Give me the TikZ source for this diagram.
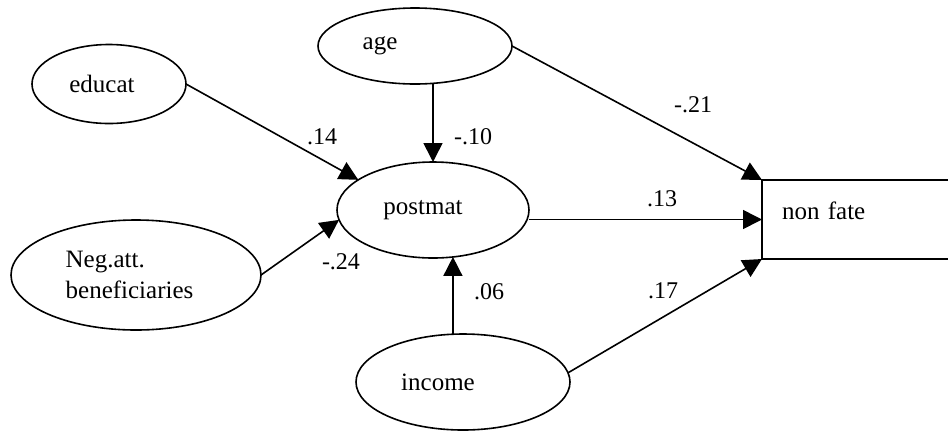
\documentclass[tikz,border=0pt]{standalone}
\usepackage{fontspec}
\setmainfont{Liberation Serif}
\usetikzlibrary{arrows.meta,shapes.geometric}
\begin{document}
\begin{tikzpicture}[x=1bp,y=-1bp,
  ell/.style={ellipse,draw,line width=1.6bp,inner sep=0pt,outer sep=0pt,font=\fontsize{25bp}{31bp}\selectfont},
  box/.style={rectangle,draw,line width=1.6bp,inner sep=0pt,outer sep=0pt,font=\fontsize{25bp}{31bp}\selectfont},
  lbl/.style={inner sep=0pt,font=\fontsize{24bp}{28bp}\selectfont},
  arr/.style={-{Triangle[length=19bp,width=19bp]},line width=1.6bp}]
\useasboundingbox (0,0) rectangle (948,432);
\node[ell,minimum width=154bp,minimum height=79bp] (educat) at (109,84) {educat\kern14bp};
\node[ell,minimum width=194bp,minimum height=76bp] (age) at (415,46) {age\kern70bp};
\node[ell,minimum width=192bp,minimum height=96bp] (postmat) at (433,210) {postmat\kern20bp};
\node[ell,minimum width=250bp,minimum height=110bp,align=left] (neg) at (136,275) {Neg.att.\\beneficiaries\kern13bp};
\node[ell,minimum width=214bp,minimum height=96bp] (income) at (463,382) {income\kern50bp};
\node[box,anchor=north west,minimum width=240bp,minimum height=79bp,text width=200bp,align=left,text depth=17bp] (nonfate) at (762,180) {non fate};
\draw[arr] (educat.east) -- (postmat.158);
\draw[arr] (neg.east) -- (postmat.186);
\draw[arr] (postmat.north |- age.south) -- (postmat.north);
\draw[arr] (postmat.293 |- income.north) -- (postmat.293);
\draw[arr] (age.east) -- (nonfate.north west);
\draw[arr] (nonfate.west -| postmat.east) -- (nonfate.west);
\draw[arr] (income.5) -- (nonfate.south west);
\node[lbl] (l1) at (322,137) {.14};
\node[lbl] (l2) at (473,137) {-.10};
\node[lbl] (l3) at (693,105) {-.21};
\node[lbl] (l4) at (662,199) {.13};
\node[lbl] (l5) at (341,262) {-.24};
\node[lbl] (l6) at (489,292) {.06};
\node[lbl] (l7) at (663,291) {.17};
\end{tikzpicture}
\end{document}
